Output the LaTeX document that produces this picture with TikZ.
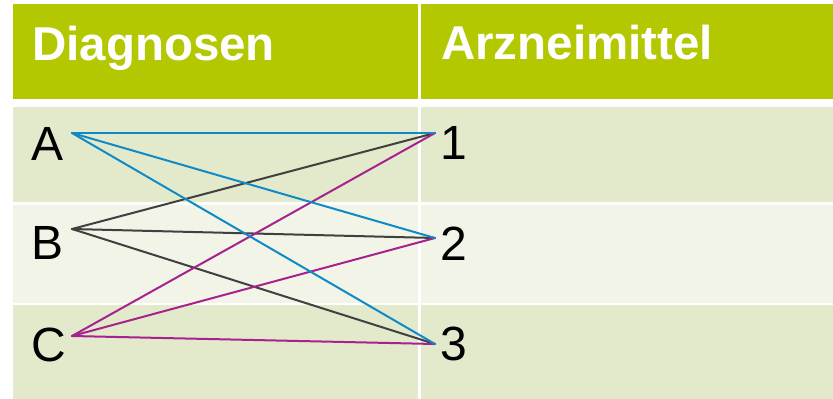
\documentclass[tikz,border=0pt]{standalone}
\usepackage{fontspec}
\setmainfont{Liberation Sans}
\definecolor{hdr}{HTML}{B3C800}
\definecolor{rowa}{HTML}{E3EACC}
\definecolor{rowb}{HTML}{F2F4E7}
\definecolor{lblue}{HTML}{0F8AC8}
\definecolor{lgray}{HTML}{404040}
\definecolor{lmag}{HTML}{A6228E}
\tikzset{
  cell/.style={inner sep=0pt, outer sep=0pt},
  head/.style={anchor=base west, inner sep=0pt, text=white, font=\fontsize{47.5}{56}\selectfont\bfseries},
  lab/.style={anchor=base west, inner sep=0pt, text=black, font=\fontsize{48}{56}\selectfont},
  edge/.style={line width=2pt, line cap=round}
}
\begin{document}
\begin{tikzpicture}[x=1pt,y=-1pt]
\useasboundingbox (0,0) rectangle (833,399);
% cells
\fill[hdr] (13,4) rectangle (418,99);
\fill[hdr] (421,4) rectangle (833,99);
\fill[rowa] (13,107) rectangle (418,202);
\fill[rowa] (421,107) rectangle (833,202);
\fill[rowb] (13,204.5) rectangle (418,302.5);
\fill[rowb] (421,204.5) rectangle (833,302.5);
\fill[rowa] (13,305) rectangle (418,399);
\fill[rowa] (421,305) rectangle (833,399);
% header text
\node[head] (h1) at (32,60) {Diagnosen};
\node[head] (h2) at (441,59) {Arzneimittel};
% labels
\node[lab] (A) at (31,160) {A};
\node[lab] (B) at (31,259) {B};
\node[lab] (C) at (31,361) {C};
\node[lab] (N1) at (440,159) {1};
\node[lab] (N2) at (440,260) {2};
\node[lab] (N3) at (440,360) {3};
% connector ends
\coordinate (a) at (72,133);
\coordinate (b) at (72,229);
\coordinate (c) at (72,336);
\coordinate (n1) at (435,133);
\coordinate (n2) at (435,238);
\coordinate (n3) at (435,344);
% connectors
\draw[edge, lgray] (b) -- (n1);
\draw[edge, lgray] (b) -- (n2);
\draw[edge, lgray] (b) -- (n3);
\draw[edge, lmag] (c) -- (n1);
\draw[edge, lmag] (c) -- (n2);
\draw[edge, lmag] (c) -- (n3);
\draw[edge, lblue] (a) -- (n1);
\draw[edge, lblue] (a) -- (n2);
\draw[edge, lblue] (a) -- (n3);
\end{tikzpicture}
\end{document}
